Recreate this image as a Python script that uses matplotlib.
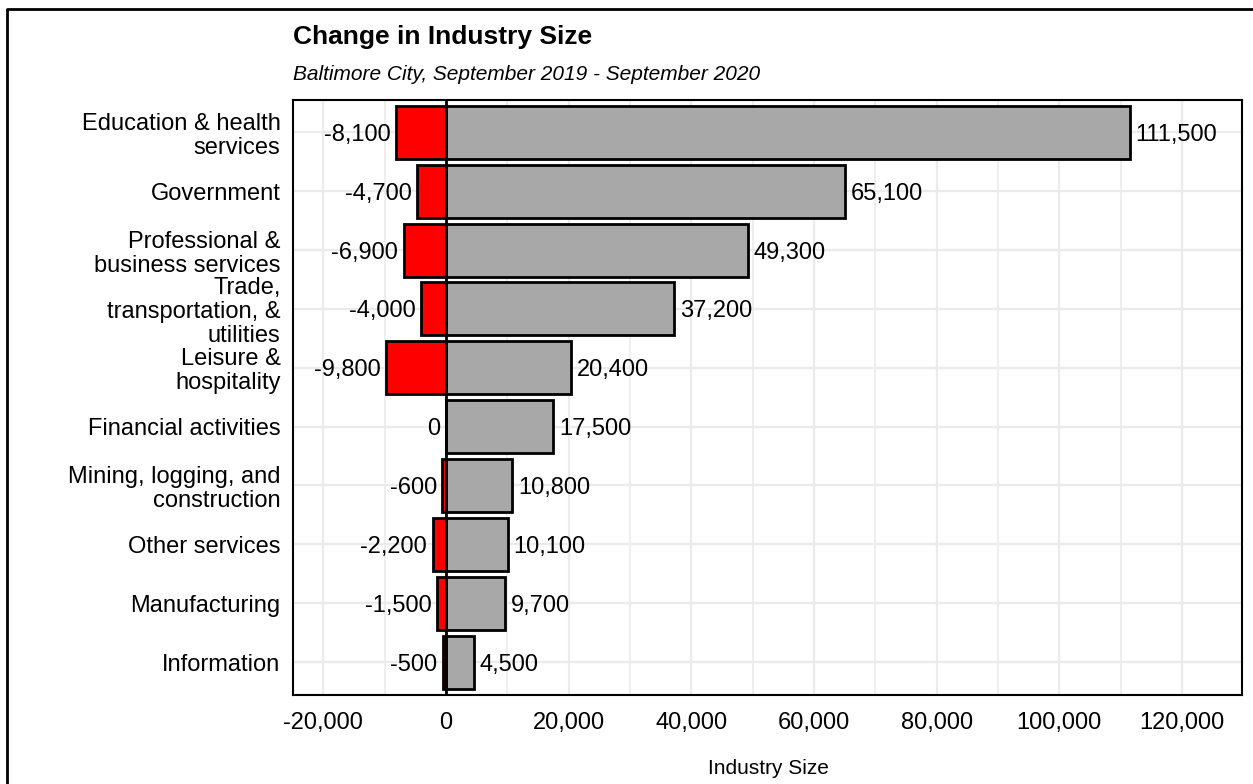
import matplotlib
matplotlib.use("Agg")
import matplotlib.pyplot as plt
from matplotlib.lines import Line2D
from matplotlib.ticker import MultipleLocator, FuncFormatter

plt.rcParams['font.family'] = ['Liberation Sans', 'DejaVu Sans']

industries = [
    "Education & health\nservices",
    "Government",
    "Professional &\nbusiness services",
    "Trade,\ntransportation, &\nutilities",
    "Leisure &\nhospitality",
    "Financial activities",
    "Mining, logging, and\nconstruction",
    "Other services",
    "Manufacturing",
    "Information",
]
size_2020 = [111500, 65100, 49300, 37200, 20400, 17500, 10800, 10100, 9700, 4500]
change = [-8100, -4700, -6900, -4000, -9800, 0, -600, -2200, -1500, -500]

W, H = 1253, 784
fig = plt.figure(figsize=(W / 100, H / 100), dpi=100)
ax = fig.add_axes([293 / W, 1 - 695 / H, (1242 - 293) / W, (695 - 100) / H])

n = len(industries)
ypos = [n - i for i in range(n)]

ax.barh(ypos, size_2020, height=0.9, color="#A8A8A8", edgecolor="black",
        linewidth=2, zorder=2)
ax.barh(ypos, change, height=0.9, color="#FF0000", edgecolor="black",
        linewidth=2, zorder=2)
ax.axvline(0, color="black", linewidth=2, zorder=3)

fs = 17
for y, v in zip(ypos, size_2020):
    ax.annotate(f"{v:,}", xy=(v, y), xytext=(4, 0), textcoords="offset points",
                ha="left", va="center_baseline", fontsize=fs, zorder=4)
for y, v in zip(ypos, change):
    ax.annotate(f"{v:,}", xy=(v, y), xytext=(-4, 0), textcoords="offset points",
                ha="right", va="center_baseline", fontsize=fs, zorder=4)

ax.set_xlim(-24950, 129800)
ax.set_ylim(0.44, 10.55)
ax.xaxis.set_major_locator(MultipleLocator(20000))
ax.xaxis.set_minor_locator(MultipleLocator(10000))
ax.xaxis.set_major_formatter(FuncFormatter(lambda v, p: f"{int(v):,}"))
ax.set_yticks(ypos)
ax.set_yticklabels(industries, fontsize=fs, linespacing=1.12)
for lbl in ax.get_yticklabels():
    lbl.set_multialignment("right")
ax.tick_params(axis="x", labelsize=fs, length=0, pad=12)
ax.tick_params(axis="y", length=0, pad=9)
ax.tick_params(which="minor", length=0)

ax.grid(which="major", color="#EBEBEB", linewidth=1.6, zorder=0)
ax.grid(which="minor", color="#EBEBEB", linewidth=1.2, zorder=0)
ax.set_axisbelow(True)
for sp in ax.spines.values():
    sp.set_linewidth(1.5)
    sp.set_color("black")

fig.text(768 / W, 1 - 768 / H, "Industry Size", ha="center", va="center",
         fontsize=15)
fig.text(293 / W, 1 - 37 / H, "Change in Industry Size", ha="left",
         va="center", fontsize=19, fontweight="bold")
fig.text(293 / W, 1 - 75 / H, "Baltimore City, September 2019 - September 2020",
         ha="left", va="center", fontsize=15, fontstyle="italic")

# outer frame
fig.add_artist(Line2D([7 / W, 7 / W, 1], [0, 1 - 9 / H, 1 - 9 / H],
                      transform=fig.transFigure, color="black", linewidth=2))

fig.savefig("out.png", dpi=100, facecolor="white")
